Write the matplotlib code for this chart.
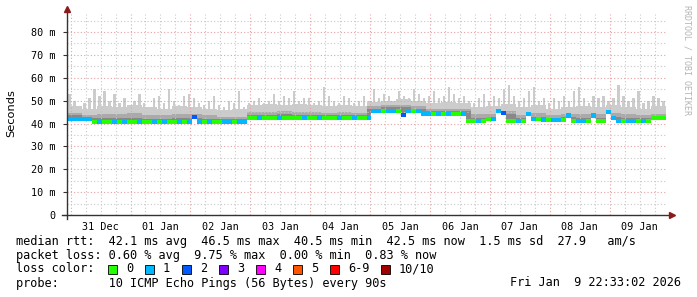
import numpy as np
import matplotlib.pyplot as plt
import matplotlib.patches as mpatches

# --- canvas / pixel helpers ---
W, H = 697, 297
MONO = 'DejaVu Sans Mono'

# time axis in days relative to 01 Jan 00:00, graph spans 10 days ending Jan 9 22:33
T_START = -1.0604
T_END = 8.9396
STEP2 = 1.0 / 12   # 2 hour bins
STEP6 = 0.25       # 6 hour bins

# --- data (ms) ---
median = [42.0, 42.0, 42.0, 42.0, 42.0,
          40.8, 40.8, 40.8, 40.8, 40.8, 40.8, 40.8, 40.8, 40.8, 40.8,
          40.8, 40.8, 40.8, 40.8, 40.8, 40.8, 40.8, 40.8, 40.8, 40.8,
          43.0,
          40.8, 40.8, 40.8, 40.8, 40.8, 40.8, 40.8, 40.8, 40.8, 40.8,
          42.3, 42.3, 42.3, 42.3, 42.3, 42.3, 42.3, 42.3, 42.3, 42.3,
          42.3, 42.3, 42.3, 42.3, 42.3, 42.3, 42.3, 42.3, 42.3, 42.3,
          42.3, 42.3, 42.3, 42.3, 42.3,
          45.5, 45.5, 45.5, 45.5, 45.5, 45.5,
          43.8,
          45.5, 45.5, 45.5,
          44.0, 44.0, 44.0, 44.0, 44.0, 44.0, 44.0, 44.0, 44.0,
          41.0, 41.0, 41.0, 41.0,
          42.0, 42.0,
          45.5, 44.5,
          41.0, 41.0, 41.0, 41.0,
          44.0,
          42.0, 42.0,
          41.5, 41.5, 41.5, 41.5, 41.5,
          43.5,
          41.0, 41.0, 41.0, 41.0,
          43.5,
          41.0, 41.0,
          45.0, 42.5,
          41.0, 41.0, 41.0, 41.0, 41.0, 41.0, 41.0,
          42.5, 42.5, 42.5]

loss = [1, 1, 1, 1, 1,
        0, 1, 0, 0, 1, 0, 1, 0, 0, 1, 0, 0, 1, 0, 1, 0, 0, 1, 0, 1,
        2,
        1, 0, 1, 0, 0, 1, 1, 0, 1, 1,
        0, 0, 1, 0, 0, 0, 1, 0, 0, 0, 0, 1, 0, 0, 1, 0, 0, 0, 1, 0, 0, 1, 0, 0, 1,
        1, 1, 0, 1, 1, 0, 2, 1, 0, 1,
        1, 1, 0, 1, 0, 1, 0, 0, 1,
        0, 0, 1, 0, 0, 1, 1, 2, 0, 0, 1, 0,
        1, 1, 0, 1, 0, 1, 1, 0,
        1, 0, 1, 1, 0, 1, 0, 0, 1, 1, 1, 0, 1, 1, 0, 1, 0, 0, 0, 0]

# max ping per 2h bin
peak = [53, 50, 47, 49, 51, 55, 52, 54, 50, 53, 49, 51,
        48, 50, 53, 49, 47, 51, 52, 49, 55, 50, 48, 52,
        53, 51, 49, 48, 50, 52, 48, 47, 50, 49, 54, 47,
        49, 50, 51, 49, 50, 53, 50, 52, 51, 54, 50, 51,
        51, 49, 50, 56, 52, 50, 49, 52, 51, 49, 50, 52,
        50, 55, 51, 53, 52, 50, 54, 52, 51, 55, 53, 51,
        52, 54, 51, 52, 56, 53, 51, 52, 50, 49, 51, 53,
        50, 52, 51, 55, 57, 52, 50, 51, 54, 56, 50, 51,
        49, 51, 50, 52, 50, 54, 56, 51, 49, 52, 51, 52,
        50, 51, 57, 52, 50, 51, 54, 49, 50, 52, 51, 50]

# smoke bands per 6h bin: light body, mid gray, dark gray tops
body = [47.5, 46.5, 47.5, 47.0, 48.0, 47.0, 46.5, 47.5, 47.0, 46.5,
        46.0, 46.5, 48.0, 48.5, 48.0, 48.5, 48.0, 47.5, 48.0, 47.5,
        49.5, 50.0, 50.5, 50.0, 49.0, 49.5, 49.0, 47.0, 47.5, 48.5,
        47.0, 48.0, 46.5, 47.0, 47.5, 47.0, 48.0, 47.0, 46.5, 47.5]
mid = [44.5, 43.5, 44.0, 44.0, 44.5, 43.5, 43.5, 44.0, 44.0, 43.5,
       43.0, 43.0, 45.0, 45.0, 45.5, 45.0, 45.0, 44.5, 45.0, 44.5,
       47.5, 48.0, 48.0, 47.5, 46.5, 46.5, 46.5, 44.0, 44.0, 45.5,
       43.5, 44.5, 43.5, 44.0, 44.0, 44.0, 44.5, 44.0, 43.5, 44.0]
dark = [43.5, 42.5, 42.5, 42.5, 42.5, 42.0, 42.0, 42.5, 42.5, 42.0,
        42.0, 42.0, 43.5, 43.5, 44.0, 43.5, 43.5, 43.5, 43.5, 43.5,
        46.5, 47.0, 47.0, 46.5, 45.5, 45.5, 45.5, 42.5, 42.5, 44.0,
        42.5, 43.0, 42.5, 43.0, 42.5, 42.5, 43.0, 42.5, 42.5, 43.0]

loss_labels = ['0', '1', '2', '3', '4', '5', '6-9', '10/10']
loss_colors = ['#26ff00', '#00b8ff', '#0059ff', '#7e00ff', '#ff00ff', '#ff5500', '#ff0000', '#a10000']

day_labels = ['31 Dec', '01 Jan', '02 Jan', '03 Jan', '04 Jan',
              '05 Jan', '06 Jan', '07 Jan', '08 Jan', '09 Jan']

# --- figure ---
fig = plt.figure(figsize=(W / 100, H / 100), dpi=100)
ax = fig.add_axes([67 / W, (H - 215) / H, 599 / W, 201 / H])

median = np.array(median)
edges = T_START + np.arange(len(median) + 1) * STEP2
centers = edges[:-1] + STEP2 / 2


def stepped(v):
    return np.append(v, v[-1])


body2 = np.maximum(np.repeat(body, 3), median)
mid2 = np.maximum(np.repeat(mid, 3), median)
dark2 = np.maximum(np.repeat(dark, 3), median)

# smoke
ax.bar(centers, np.array(peak) - median, bottom=median, width=STEP2 * 0.45,
       color='#cccccc', linewidth=0, zorder=1)
ax.fill_between(edges, stepped(median), stepped(body2), step='post', color='#cccccc', lw=0, zorder=1)
ax.fill_between(edges, stepped(median), stepped(mid2), step='post', color='#aaaaaa', lw=0, zorder=2)
ax.fill_between(edges, stepped(median), stepped(dark2), step='post', color='#888888', lw=0, zorder=2)

# grid
dot = (0, (1, 2))
for q in np.arange(-1, 9, 0.25):
    if q < T_START:
        continue
    if float(q).is_integer():
        ax.axvline(q, color='#e8a0a0', ls=dot, lw=0.8, zorder=3)
    else:
        ax.axvline(q, color='#c8c8c8', ls=dot, lw=0.8, zorder=3)
for v in range(5, 90, 10):
    ax.axhline(v, color='#c8c8c8', ls=dot, lw=0.8, zorder=3)
for v in range(10, 90, 10):
    ax.axhline(v, color='#e8a0a0', ls=dot, lw=0.8, zorder=3)

# median colored by loss
ax.bar(centers, 1.8, bottom=median - 0.9, width=STEP2,
       color=[loss_colors[k] for k in loss], linewidth=0, zorder=4)

ax.set_xlim(T_START, T_END)
ax.set_ylim(0, 201 / 2.2875)

for s in ax.spines.values():
    s.set_visible(False)

# axis lines with arrows
axis_col = '#333333'
ax.plot([0, 0], [-4 / 201, 1.01], color=axis_col, lw=1, transform=ax.transAxes, clip_on=False, zorder=5)
ax.plot([-5 / 599, 1.0075], [0, 0], color=axis_col, lw=1, transform=ax.transAxes, clip_on=False, zorder=5)
ax.plot([0], [1.025], marker='^', ms=4, color='#8b1a1a', transform=ax.transAxes, clip_on=False, zorder=5)
ax.plot([1.0095], [0], marker='>', ms=4, color='#8b1a1a', transform=ax.transAxes, clip_on=False, zorder=5)

ax.set_yticks(range(0, 81, 10))
ax.set_yticklabels(['0'] + ['%d m' % v for v in range(10, 81, 10)], family=MONO, fontsize=7.3)
ax.set_xticks(np.arange(-0.5, 9, 1.0))
ax.set_xticklabels(day_labels, family=MONO, fontsize=7.3)
ax.tick_params(axis='y', length=3, width=0.8, color=axis_col, pad=5)
ax.tick_params(axis='x', length=0, pad=5)

fig.text(11 / W, 1 - 113 / H, 'Seconds', rotation=90, ha='center', va='center',
         family='DejaVu Sans', fontsize=8.2)
fig.text(687 / W, 1 - 5 / H, 'RRDTOOL / TOBI OETIKER', rotation=270, ha='center', va='top',
         family=MONO, fontsize=6, color='#b4b4b4')

# --- legend rows ---
LF = 8.55


def row(x, y, s, **kw):
    fig.text(x / W, 1 - y / H, s, family=MONO, fontsize=LF, va='center', **kw)


row(16, 241, 'median rtt:  42.1 ms avg  46.5 ms max  40.5 ms min  42.5 ms now  1.5 ms sd  27.9   am/s')
row(16, 255, 'packet loss: 0.60 % avg  9.75 % max  0.00 % min  0.83 % now')
row(16, 269, 'loss color:')
box_x = [108, 145, 182, 219, 256, 293, 330, 381]
for bx, lab, col in zip(box_x, loss_labels, loss_colors):
    fig.patches.append(mpatches.Rectangle((bx / W, 1 - 274 / H), 9 / W, 9 / H,
                                          transform=fig.transFigure, facecolor=col,
                                          edgecolor='black', lw=0.6))
    row(bx + 18, 269, lab)
row(16, 283, 'probe:       10 ICMP Echo Pings (56 Bytes) every 90s')
row(681, 283, 'Fri Jan  9 22:33:02 2026', ha='right')

fig.savefig('out.png', dpi=100)
